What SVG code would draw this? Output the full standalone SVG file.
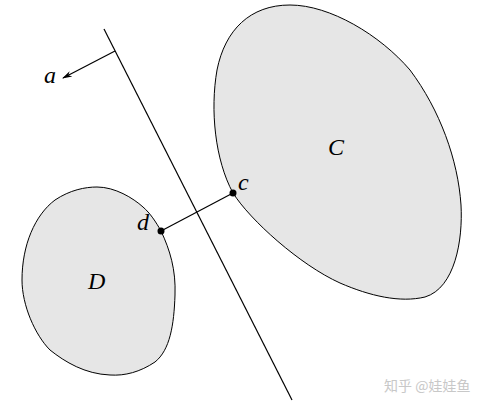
<svg xmlns="http://www.w3.org/2000/svg" width="489" height="411" viewBox="0 0 489 411">
<defs>
<style>
.set{fill:#e6e6e6;stroke:#000;stroke-width:1}
.ln{stroke:#000;stroke-width:1.2;fill:none}
.lbl{font-family:"Liberation Serif",serif;font-style:italic;font-size:24px;fill:#000}
.wm{font-family:"Noto Sans CJK SC",sans-serif;font-size:14px;fill:#c8c8c8}
</style>
<marker id="ah" markerWidth="10" markerHeight="8" refX="9" refY="4" orient="auto" markerUnits="userSpaceOnUse">
<path d="M0,1 L10,4 L0,7 L3,4 Z" fill="#000"/>
</marker>
</defs>
<rect width="489" height="411" fill="#fff"/>
<g id="C">
<path class="set" d="M233,193 C250,220 300,265 340,283 C370,296 400,303 425,297 C455,288 463,240 461,205 C458,160 440,110 410,70 C380,35 330,5 290,5 C250,5 225,30 217,70 C210,110 215,160 233,193 Z"/>
<text class="lbl" x="328" y="155">C</text>
</g>
<g id="D">
<path class="set" d="M161,231 C170,250 176,270 175,295 C174,325 170,350 155,362 C140,372 125,376 110,375 C85,374 65,362 50,350 C35,335 22,305 22,280 C22,245 35,215 55,200 C70,190 85,187 97,187 C115,187 133,198 143,207 C150,213 156,222 161,231 Z"/>
<text class="lbl" x="88" y="289">D</text>
</g>
<g id="connectors">
<line class="ln" x1="104" y1="29" x2="292" y2="400"/>
<line class="ln" x1="115" y1="51" x2="63" y2="78" marker-end="url(#ah)"/>
<line class="ln" x1="161" y1="231" x2="233" y2="193"/>
<circle cx="161" cy="231" r="3.5" fill="#000"/>
<circle cx="233" cy="193" r="3.5" fill="#000"/>
</g>
<text class="lbl" x="44" y="83">a</text>
<text class="lbl" x="238" y="190">c</text>
<text class="lbl" x="137" y="230">d</text>
<text class="wm" x="384" y="391">知乎 @娃娃鱼</text>
</svg>
